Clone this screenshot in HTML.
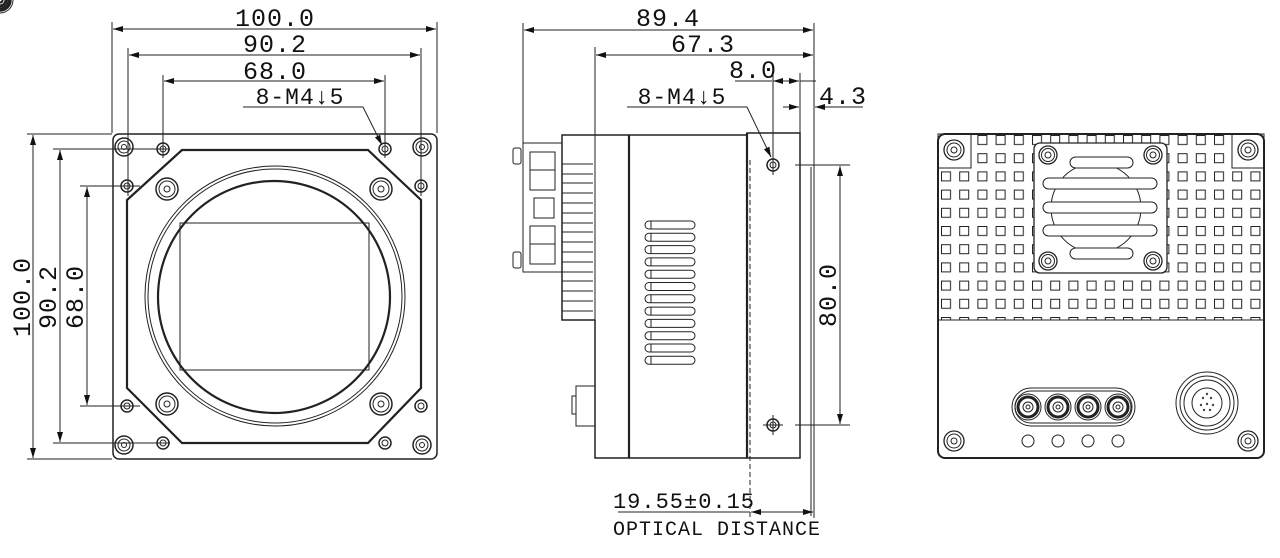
<!DOCTYPE html>
<html><head><meta charset="utf-8"><style>
html,body{margin:0;padding:0;background:#fff;}
svg{display:block}
text{font-family:"Liberation Mono","Noto Serif CJK SC",monospace;fill:#111;}
</style></head><body>
<svg width="1280" height="558" viewBox="0 0 1280 558" xmlns="http://www.w3.org/2000/svg">
<defs>
<marker id="a" viewBox="0 0 10 6" refX="10" refY="3" markerWidth="10" markerHeight="6" orient="auto-start-reverse" markerUnits="userSpaceOnUse"><path d="M0,0 L10,3 L0,6 z" fill="#111"/></marker>
<pattern id="gp" x="941" y="135" width="18.2" height="18.2" patternUnits="userSpaceOnUse"><rect x="0.5" y="0.5" width="9" height="9" fill="none" stroke="#222" stroke-width="1"/></pattern>
</defs>
<g stroke="#222" fill="none" stroke-width="1">
<!-- FRONT VIEW -->
<line x1="112" y1="22" x2="112" y2="133"/><line x1="437" y1="22" x2="437" y2="133"/>
<line x1="128" y1="48" x2="128" y2="196"/><line x1="421" y1="48" x2="421" y2="196"/>
<line x1="163" y1="75" x2="163" y2="158"/><line x1="385" y1="75" x2="385" y2="158"/>
<line x1="113" y1="29" x2="436" y2="29" marker-start="url(#a)" marker-end="url(#a)"/>
<line x1="129" y1="55" x2="420" y2="55" marker-start="url(#a)" marker-end="url(#a)"/>
<line x1="164" y1="81" x2="384" y2="81" marker-start="url(#a)" marker-end="url(#a)"/>
<polyline points="243,107 363,107 382,145" marker-end="url(#a)"/>
<line x1="27" y1="134" x2="112" y2="134"/><line x1="27" y1="459" x2="112" y2="459"/>
<line x1="53" y1="149" x2="170" y2="149"/><line x1="53" y1="443" x2="170" y2="443"/>
<line x1="80" y1="186" x2="140" y2="186"/><line x1="80" y1="406" x2="140" y2="406"/>
<line x1="33" y1="135" x2="33" y2="458" marker-start="url(#a)" marker-end="url(#a)"/>
<line x1="60" y1="150" x2="60" y2="442" marker-start="url(#a)" marker-end="url(#a)"/>
<line x1="87" y1="187" x2="87" y2="405" marker-start="url(#a)" marker-end="url(#a)"/>
<rect x="113" y="134" width="324" height="325" rx="6" stroke-width="1.5"/>
<polygon points="182,150 368,150 421,200 421,388 368,443 182,443 127,388 127,200" stroke-width="2.2"/>
<circle cx="275" cy="296" r="130"/>
<circle cx="275" cy="296" r="127"/>
<circle cx="274" cy="297" r="116" stroke-width="2.2"/>
<rect x="180" y="223" width="189" height="147"/>
<g id="hb"><circle r="9" stroke-width="1.5"/><circle r="6"/><circle r="2.5"/></g>
<use href="#hb" x="124" y="147"/><use href="#hb" x="422" y="147"/><use href="#hb" x="124" y="445"/><use href="#hb" x="422" y="445"/>
<g id="hs"><circle r="6" stroke-width="1.5"/><circle r="3"/></g>
<use href="#hs" x="163" y="149"/><use href="#hs" x="385" y="149"/><use href="#hs" x="127" y="186"/><use href="#hs" x="421" y="186"/>
<use href="#hs" x="127" y="406"/><use href="#hs" x="421" y="406"/><use href="#hs" x="163" y="443"/><use href="#hs" x="385" y="443"/>
<g id="sc"><circle r="11" stroke-width="1.5"/><circle r="8"/><circle r="3"/></g>
<use href="#sc" x="167" y="189"/><use href="#sc" x="381" y="189"/><use href="#sc" x="167" y="404"/><use href="#sc" x="381" y="404"/>

<!-- SIDE VIEW -->
<line x1="523" y1="23" x2="523" y2="143"/>
<line x1="595" y1="47" x2="595" y2="320"/>
<line x1="814" y1="23" x2="814" y2="518"/>
<line x1="811" y1="167" x2="811" y2="516"/>
<line x1="524" y1="30" x2="813" y2="30" marker-start="url(#a)" marker-end="url(#a)"/>
<line x1="596" y1="55" x2="813" y2="55" marker-start="url(#a)" marker-end="url(#a)"/>
<line x1="773" y1="73" x2="773" y2="175"/><line x1="800" y1="73" x2="800" y2="133"/>
<line x1="735" y1="81" x2="772" y2="81"/><line x1="773" y1="81" x2="799" y2="81" marker-start="url(#a)" marker-end="url(#a)"/><line x1="800" y1="81" x2="816" y2="81"/>
<line x1="783" y1="107" x2="799" y2="107" marker-end="url(#a)"/><line x1="815" y1="107" x2="863" y2="107"/><line x1="830" y1="107" x2="815" y2="107" marker-end="url(#a)"/>
<polyline points="627,107 747,107 771,157" marker-end="url(#a)"/>
<polyline points="595,320 562,320 562,135 747,135" stroke-width="1.5"/>
<polyline points="595,320 595,458 747,458" stroke-width="1.5"/>
<rect x="747" y="133" width="53" height="325" stroke-width="1.5"/>
<line x1="629" y1="135" x2="629" y2="458" stroke-width="2.2"/>
<line x1="747" y1="133" x2="747" y2="458" stroke-width="2.2"/>
<line x1="750" y1="160" x2="750" y2="520" stroke-dasharray="5,3"/>
<rect x="523" y="143" width="39" height="129"/>
<rect x="530" y="152" width="25" height="38"/><line x1="530" y1="170" x2="555" y2="170"/>
<rect x="530" y="226" width="25" height="38"/><line x1="530" y1="244" x2="555" y2="244"/>
<rect x="534" y="198" width="20" height="20"/>
<rect x="513" y="148" width="8" height="16" rx="2"/><rect x="513" y="252" width="8" height="16" rx="2"/>
<g>
<line x1="562" y1="164" x2="593" y2="164"/><line x1="562" y1="174" x2="593" y2="174"/>
<line x1="562" y1="183" x2="593" y2="183"/><line x1="562" y1="193" x2="593" y2="193"/>
<line x1="562" y1="203" x2="593" y2="203"/><line x1="562" y1="213" x2="593" y2="213"/>
<line x1="562" y1="223" x2="593" y2="223"/><line x1="562" y1="232" x2="593" y2="232"/>
<line x1="562" y1="242" x2="593" y2="242"/><line x1="562" y1="252" x2="593" y2="252"/>
<line x1="562" y1="262" x2="593" y2="262"/><line x1="562" y1="272" x2="593" y2="272"/>
<line x1="562" y1="281" x2="593" y2="281"/><line x1="562" y1="291" x2="593" y2="291"/>
<line x1="562" y1="301" x2="593" y2="301"/><line x1="562" y1="311" x2="593" y2="311"/>
</g>
<rect x="576" y="386" width="19" height="40"/><rect x="572" y="396" width="4" height="18"/>
<g id="sl"><rect x="645" y="221" width="50" height="8" rx="4"/><line x1="651" y1="221" x2="651" y2="229"/></g>
<use href="#sl" y="12.3"/><use href="#sl" y="24.6"/><use href="#sl" y="36.9"/><use href="#sl" y="49.2"/><use href="#sl" y="61.5"/>
<use href="#sl" y="73.8"/><use href="#sl" y="86.1"/><use href="#sl" y="98.4"/><use href="#sl" y="110.7"/><use href="#sl" y="123"/><use href="#sl" y="135.3"/>
<use href="#hs" x="773" y="165"/><use href="#hs" x="773" y="425"/>
<line x1="763" y1="425" x2="783" y2="425"/><line x1="773" y1="415" x2="773" y2="435"/>
<line x1="795" y1="165" x2="850" y2="165"/><line x1="795" y1="425" x2="850" y2="425"/>
<line x1="840" y1="166" x2="840" y2="424" marker-start="url(#a)" marker-end="url(#a)"/>
<line x1="618" y1="512" x2="750" y2="512"/>
<line x1="751" y1="512" x2="813" y2="512" marker-start="url(#a)" marker-end="url(#a)"/>
</g>

<!-- BACK VIEW -->
<rect x="941" y="135" width="322" height="185" fill="url(#gp)"/>
<g stroke="#222" fill="#fff" stroke-width="1">
<rect x="938" y="320" width="326" height="138" stroke="none"/>
<rect x="938" y="134" width="33" height="34"/>
<rect x="1232" y="134" width="32" height="34"/>
<rect x="1034" y="143" width="133" height="130" rx="6" stroke-width="1.3"/>
</g>
<g stroke="#222" fill="none" stroke-width="1">
<rect x="938" y="134" width="326" height="324" rx="7" stroke-width="2"/>
<line x1="938" y1="320" x2="1264" y2="320"/>
<circle cx="1096" cy="208" r="45"/>
<rect x="1070" y="157" width="63" height="11" rx="5.5" fill="#fff"/>
<rect x="1043" y="178" width="114" height="11" rx="5.5" fill="#fff"/>
<rect x="1043" y="202" width="114" height="11" rx="5.5" fill="#fff"/>
<rect x="1043" y="225" width="114" height="11" rx="5.5" fill="#fff"/>
<rect x="1070" y="248" width="63" height="11" rx="5.5" fill="#fff"/>
<g id="bs"><circle r="9" stroke-width="1.3"/><circle r="6.5"/><circle r="3"/></g>
<use href="#bs" x="1048" y="155"/><use href="#bs" x="1153" y="155"/><use href="#bs" x="1048" y="261"/><use href="#bs" x="1153" y="261"/>
<g id="cs"><circle r="10" stroke-width="1.3"/><circle r="7"/><circle r="3"/></g>
<use href="#cs" x="954" y="150"/><use href="#cs" x="1248" y="150"/><use href="#cs" x="954" y="441"/><use href="#cs" x="1248" y="441"/>
<rect x="1012" y="388" width="123" height="38" rx="19"/>
<rect x="1015" y="391" width="117" height="32" rx="16"/>
<g id="bn"><circle r="13"/><circle r="10" stroke-width="3"/><circle r="5"/><circle r="2"/></g>
<use href="#bn" x="1028" y="407"/><use href="#bn" x="1058" y="407"/><use href="#bn" x="1088" y="407"/><use href="#bn" x="1118" y="407"/>
<circle cx="1207" cy="403" r="31"/><circle cx="1207" cy="403" r="27"/><circle cx="1207" cy="403" r="23"/><circle cx="1207" cy="403" r="15"/>
<g fill="#444" stroke="none"><circle cx="1203" cy="398" r="1.2"/><circle cx="1211" cy="398" r="1.2"/><circle cx="1201" cy="405" r="1.2"/><circle cx="1207" cy="404" r="1.2"/><circle cx="1213" cy="405" r="1.2"/><circle cx="1204" cy="410" r="1.2"/><circle cx="1210" cy="410" r="1.2"/><circle cx="1207" cy="394" r="1.2"/></g>
<circle cx="1028" cy="441" r="6"/><circle cx="1058" cy="441" r="6"/><circle cx="1088" cy="441" r="6"/><circle cx="1118" cy="441" r="6"/>
</g>

<!-- TEXT -->
<g font-size="25" text-anchor="middle" letter-spacing="1">
<text x="275" y="26">100.0</text>
<text x="275" y="52">90.2</text>
<text x="275" y="79">68.0</text>
<text x="300" y="104" font-size="23">8-M4↓5</text>
<text x="668" y="26">89.4</text>
<text x="703" y="52">67.3</text>
<text x="753" y="78">8.0</text>
<text x="843" y="104">4.3</text>
<text x="682" y="104" font-size="23">8-M4↓5</text>
<text x="684" y="508" font-size="22">19.55±0.15</text>
<text x="717" y="535" font-size="20">OPTICAL DISTANCE</text>
<text transform="translate(30,297) rotate(-90)">100.0</text>
<text transform="translate(56,297) rotate(-90)">90.2</text>
<text transform="translate(83,297) rotate(-90)">68.0</text>
<text transform="translate(836,295) rotate(-90)">80.0</text>
</g>
</svg>
</body></html>
